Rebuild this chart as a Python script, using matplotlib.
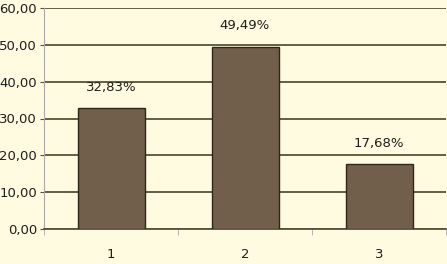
import matplotlib.pyplot as plt
import numpy as np

plt.rcParams['font.family'] = ['DejaVu Sans Condensed', 'DejaVu Sans']

categories = ['1', '2', '3']
values = [32.83, 49.49, 17.68]
labels = ['32,83%', '49,49%', '17,68%']
yticks = [0, 10, 20, 30, 40, 50, 60]

bg = '#fffbe0'
fig = plt.figure(figsize=(4.47, 2.64), dpi=100, facecolor=bg)
ax = fig.add_axes([44/447, 35/264, 402/447, 221/264], facecolor=bg)

x = np.arange(len(categories))
ax.bar(x, values, width=0.5, color='#725f4b', edgecolor='#2e2618', linewidth=1, zorder=3)

for xi, v, lab in zip(x, values, labels):
    ax.annotate(lab, (xi, v), xytext=(0, 15), textcoords='offset points',
                ha='center', va='center', fontsize=9.5, color='#1e1e1e')

ax.set_xlim(-0.5, 2.5)
ax.set_ylim(0, 60)
ax.set_yticks(yticks)
ax.set_yticklabels(['%d,00' % t for t in yticks], fontsize=9.5, color='#1e1e1e')
ax.yaxis.grid(True, color='#55523a', linewidth=1.3, zorder=0)
ax.tick_params(axis='y', length=3, color='#55523a', pad=2)

ax.set_xticks(x)
ax.set_xticklabels(categories, fontsize=9.5, color='#1e1e1e')
ax.set_xticks([-0.5, 0.5, 1.5, 2.5], minor=True)
ax.tick_params(axis='x', which='major', length=0, pad=14)
ax.tick_params(axis='x', which='minor', length=4, color='#aaaaaa')

for s in ['top', 'right']:
    ax.spines[s].set_visible(False)
ax.spines['left'].set_color('#aaaaaa')
ax.spines['left'].set_linewidth(0.8)
ax.spines['bottom'].set_color('#55523a')
ax.spines['bottom'].set_linewidth(1.3)

fig.savefig('out.png', dpi=100, facecolor=bg)
